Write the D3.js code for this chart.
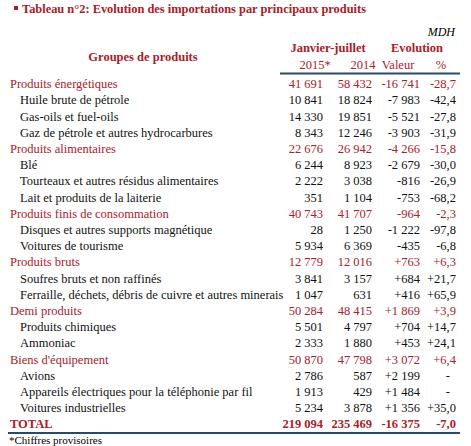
<!DOCTYPE html>
<html><head><meta charset="utf-8">
<script src="https://cdn.jsdelivr.net/npm/d3@7"></script>
<style>body{margin:0;background:#fff}svg{font-family:"Liberation Serif","Times New Roman",serif}</style>
</head><body><svg id="t" width="471" height="446"></svg>
<script>
// rows: label, level (0 = group, 1 = product, 2 = total)
var labels = ["Produits énergétiques","Huile brute de pétrole","Gas-oils et fuel-oils","Gaz de pétrole et autres hydrocarbures",
  "Produits alimentaires","Blé","Tourteaux et autres résidus alimentaires","Lait et produits de la laiterie",
  "Produits finis de consommation","Disques et autres supports magnétique","Voitures de tourisme",
  "Produits bruts","Soufres bruts et non raffinés","Ferraille, déchets, débris de cuivre et autres minerais",
  "Demi produits","Produits chimiques","Ammoniac",
  "Biens d'équipement","Avions","Appareils électriques pour la téléphonie  par fil","Voitures industrielles","TOTAL"];
var levels = [0,1,1,1, 0,1,1,1, 0,1,1, 0,1,1, 0,1,1, 0,1,1,1, 2];
var v2015 = ["41 691","10 841","14 330","8 343","22 676","6 244","2 222","351","40 743","28","5 934","12 779","3 841","1 047","50 284","5 501","2 333","50 870","2 786","1 913","5 234","219 094"];
var v2014 = ["58 432","18 824","19 851","12 246","26 942","8 923","3 038","1 104","41 707","1 250","6 369","12 016","3 157","631","48 415","4 797","1 880","47 798","587","429","3 878","235 469"];
var valeur = ["-16 741","-7 983","-5 521","-3 903","-4 266","-2 679","-816","-753","-964","-1 222","-435","+763","+684","+416","+1 869","+704","+453","+3 072","+2 199","+1 484","+1 356","-16 375"];
var pct = ["-28,7","-42,4","-27,8","-31,9","-15,8","-30,0","-26,9","-68,2","-2,3","-97,8","-6,8","+6,3","+21,7","+65,9","+3,9","+14,7","+24,1","+6,4","-","-","+35,0","-7,0"];
var colHeads = ["2015*","2014","Valeur","%"];

var red = "#a8202a", blue = "#2b4a6b";
var svg = d3.select("#t");
var y = d3.scaleBand().domain(d3.range(labels.length)).range([75.5, 432]);
var colRight = [323, 372, 420, 456];

svg.append("rect").attr("x",14).attr("y",6).attr("width",4).attr("height",4).attr("fill",red);
svg.append("text").attr("x",22).attr("y",13).attr("fill",red).attr("font-weight","bold").attr("font-size",12.5)
  .attr("textLength",344).attr("lengthAdjust","spacingAndGlyphs")
  .text("Tableau n°2: Evolution des importations par principaux produits");
svg.append("text").attr("x",455).attr("y",36).attr("text-anchor","end").attr("font-style","italic").attr("font-size",12).text("MDH");
svg.append("text").attr("x",143).attr("y",61).attr("text-anchor","middle").attr("fill",red).attr("font-weight","bold").attr("font-size",12.5).text("Groupes de produits");
svg.append("text").attr("x",328).attr("y",52).attr("text-anchor","middle").attr("fill",red).attr("font-weight","bold").attr("font-size",12.5).text("Janvier-juillet");
svg.append("text").attr("x",417).attr("y",52).attr("text-anchor","middle").attr("fill",red).attr("font-weight","bold").attr("font-size",12.5).text("Evolution");
var hx = [315, 363, 398, 441];
svg.selectAll("text.ch").data(colHeads).join("text").attr("class","ch")
  .attr("x",(d,i)=>hx[i]).attr("y",69).attr("text-anchor","middle").attr("fill",red).attr("font-size",12.5).text(d=>d);
svg.append("line").attr("x1",280).attr("x2",460).attr("y1",73.5).attr("y2",73.5).attr("stroke",blue).attr("stroke-width",2);

var rows = svg.selectAll("g.row").data(labels).join("g").attr("class","row")
  .attr("transform",(d,i)=>"translate(0,"+(y(i)+y.bandwidth()/2+4.5)+")")
  .attr("fill",(d,i)=>levels[i]===1 ? "#111" : red)
  .attr("font-weight",(d,i)=>levels[i]===2 ? "bold" : "normal")
  .attr("font-size",12.5);
rows.append("text").attr("x",(d,i)=>levels[i]===1 ? 20 : 10).text(d=>d);
[v2015, v2014, valeur, pct].forEach(function(arr, c){
  rows.append("text").attr("x",(d,i)=>arr[i]==="-" ? colRight[c]-6 : colRight[c]).attr("text-anchor","end").text((d,i)=>arr[i]);
});
svg.append("line").attr("x1",8).attr("x2",460).attr("y1",433).attr("y2",433).attr("stroke",blue).attr("stroke-width",2);
svg.append("text").attr("x",9).attr("y",444).attr("font-size",11).text("*Chiffres provisoires");
</script></body></html>
